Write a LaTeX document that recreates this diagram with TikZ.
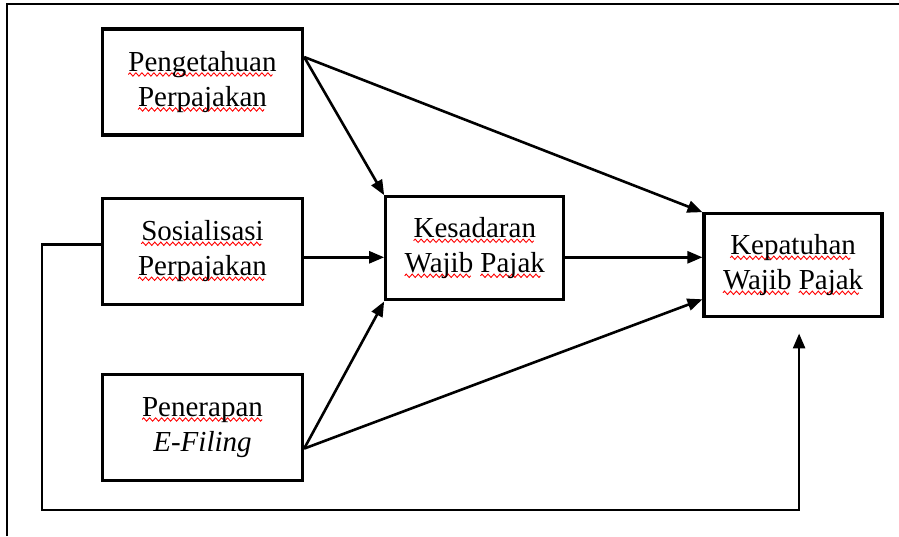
\documentclass[tikz,border=0pt]{standalone}
\usepackage{fontspec}
\setmainfont{Liberation Serif}
\usepackage{xcolor}
\usepackage{tikz}
\usetikzlibrary{arrows.meta, positioning}

% red spell-check wave under a word
\newsavebox{\wavebox}
\newcommand{\sq}[1]{\setbox0\hbox{#1}\rlap{\lower5pt\hbox to\wd0{\leaders\copy\wavebox\hfill}}\box0\relax}

\begin{document}
\sbox{\wavebox}{\begin{pgfpicture}
  \pgfpathrectangle{\pgfpoint{0pt}{-2pt}}{\pgfpoint{6pt}{4pt}}\pgfusepath{use as bounding box}
  \pgfsetstrokecolor{red}\pgfsetlinewidth{0.9pt}
  \pgfpathmoveto{\pgfpoint{0pt}{0pt}}
  \pgfpathsine{\pgfpoint{1.5pt}{1.7pt}}\pgfpathcosine{\pgfpoint{1.5pt}{-1.7pt}}
  \pgfpathsine{\pgfpoint{1.5pt}{-1.7pt}}\pgfpathcosine{\pgfpoint{1.5pt}{1.7pt}}
  \pgfusepath{stroke}
\end{pgfpicture}}%
\begin{tikzpicture}[
    x=1pt, y=1pt,
    box/.style={rectangle, draw, line width=3.3pt, minimum width=200pt, minimum height=106pt, align=center, font=\fontsize{29}{35}\selectfont},
    smallbox/.style={box, minimum width=178pt, minimum height=103pt},
    arrow/.style={-{Triangle[length=15pt, width=12pt]}, line width=2.6pt},
    frame/.style={line width=2.4pt}
]
\useasboundingbox (0,0) rectangle (899,536);
\draw[frame] (7,0) -- (7,532) -- (899,532);

% Variables
\node[box] (peng) at (202.5,454) {\sq{Pengetahuan}\\\sq{Perpajakan}};
\node[box, below=60pt of peng] (sos) {\sq{Sosialisasi}\\\sq{Perpajakan}};
\node[box, below=67pt of sos] (pen) {\sq{Penerapan}\\\textit{E-Filing}};
\node[smallbox, right=80pt of sos, yshift=3pt] (kes) {\sq{Kesadaran}\\\sq{Wajib} \sq{Pajak}};
\node[smallbox, right=137pt of kes, yshift=-17pt] (kep) {\sq{Kepatuhan}\\\sq{Wajib} \sq{Pajak}};

\coordinate (pengout) at ([yshift=25pt]peng.east);
\coordinate (penout) at ([yshift=-21pt]pen.east);
\coordinate (loopL) at (42,26);
\coordinate (fbend) at ([xshift=6pt, yshift=-15pt]kep.south);

\draw[arrow] (pengout) -- (kes.north west);
\draw[arrow] (pengout) -- (kep.north west);
\draw[arrow] ([yshift=-6pt]sos.east) -- ([yshift=-6pt]sos.east -| kes.west);
\draw[arrow] ([yshift=-9pt]kes.east) -- ([yshift=-9pt]kes.east -| kep.west);
\draw[arrow] (penout) -- (kes.south west);
\draw[arrow] (penout) -- ([yshift=-34pt]kep.west);
\draw[arrow] ([yshift=7pt]sos.west) -| (loopL) -| (fbend);
\end{tikzpicture}
\end{document}
